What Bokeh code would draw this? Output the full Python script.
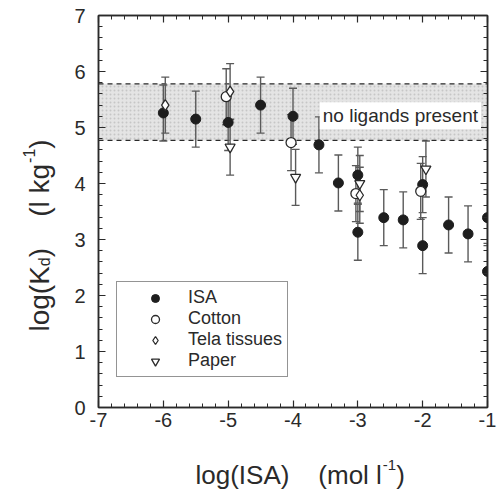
import math
from bokeh.plotting import figure
from bokeh.layouts import row, column
from bokeh.models import (ColumnDataSource, Whisker, TeeHead, Span, BoxAnnotation,
                          Label, Legend, LegendItem, LinearAxis, FixedTicker, Range1d)
from bokeh.embed import file_html
from bokeh.resources import INLINE

# ---------------- data ----------------
isa_x = [-6.0, -5.5, -5.0, -4.5, -4.0, -3.6, -3.3, -3.0, -3.0, -2.6, -2.3, -2.0, -2.0, -1.6, -1.3, -1.0, -1.0]
isa_y = [5.26, 5.15, 5.09, 5.40, 5.20, 4.69, 4.01, 4.15, 3.13, 3.39, 3.35, 3.98, 2.89, 3.26, 3.10, 3.39, 2.43]
isa_err = [0.5] * len(isa_x)

cotton_x = [-5.03, -4.03, -3.03, -2.03]
cotton_y = [5.55, 4.73, 3.82, 3.86]
cotton_err = [0.5, 0.5, 0.5, 0.5]

tela_x = [-5.97, -4.97, -2.97]
tela_y = [5.40, 5.64, 3.79]
tela_err = [0.5, 0.5, 0.5]

paper_x = [-4.97, -3.96, -2.97, -1.95]
paper_y = [4.65, 4.11, 4.00, 4.26]
paper_err = [0.5, 0.5, 0.5, 0.5]

band_low = 4.77
band_high = 5.78
band_text = "no ligands present"

x_ticks = [-7, -6, -5, -4, -3, -2, -1]
x_tick_labels = ["-7", "-6", "-5", "-4", "-3", "-2", "-1"]
y_ticks = [0, 1, 2, 3, 4, 5, 6, 7]
y_tick_labels = ["0", "1", "2", "3", "4", "5", "6", "7"]

FONT = "Liberation Sans"
INK = "#2a2a2a"
NB = "\u00a0"

MAIN_W = 38 + 389 + 11
MAIN_H = 15 + 392 + 45
p = figure(title=None, frame_width=389, frame_height=392, x_range=Range1d(-7, -1), y_range=Range1d(0, 7),
           output_backend="svg", toolbar_location=None,
           min_border_left=38, min_border_right=11, min_border_top=15, min_border_bottom=45)
p.grid.visible = False
p.outline_line_color = INK
p.outline_line_width = 1.5
p.background_fill_color = "white"
p.border_fill_color = "white"

# band
p.add_layout(BoxAnnotation(bottom=band_low, top=band_high, fill_color="#e4e4e4", fill_alpha=1.0,
                           hatch_pattern="dot", hatch_color="#c6c6c6", hatch_scale=4, hatch_weight=1,
                           line_color=None, level="underlay"))
for yv in (band_low, band_high):
    p.add_layout(Span(location=yv, dimension="width", line_color=INK, line_width=1.3,
                      line_dash="5 4", level="underlay"))

def add_series(xs, ys, errs):
    src = ColumnDataSource(dict(x=xs, y=ys, lo=[a - b for a, b in zip(ys, errs)],
                                hi=[a + b for a, b in zip(ys, errs)]))
    w = Whisker(source=src, base="x", lower="lo", upper="hi", line_color="#5a5a5a", line_width=1.4,
                upper_head=TeeHead(size=8, line_color="#5a5a5a", line_width=1.4),
                lower_head=TeeHead(size=8, line_color="#5a5a5a", line_width=1.4), level="underlay")
    p.add_layout(w)
    return src

s_isa = add_series(isa_x, isa_y, isa_err)
s_cot = add_series(cotton_x, cotton_y, cotton_err)
s_tel = add_series(tela_x, tela_y, tela_err)
s_pap = add_series(paper_x, paper_y, paper_err)

r_isa = p.scatter("x", "y", source=s_isa, marker="circle", size=10, fill_color="#1e1e1e", line_color="#1e1e1e")
r_cot = p.scatter("x", "y", source=s_cot, marker="circle", size=10, fill_color="white", line_color=INK, line_width=1.3)
r_tel = p.scatter("x", "y", source=s_tel, marker="diamond", size=11, fill_color="white", line_color=INK, line_width=1.3)
r_pap = p.scatter("x", "y", source=s_pap, marker="inverted_triangle", size=10, fill_color="white", line_color=INK, line_width=1.3)

legend = Legend(items=[LegendItem(label="ISA", renderers=[r_isa]),
                       LegendItem(label="Cotton", renderers=[r_cot]),
                       LegendItem(label="Tela tissues", renderers=[r_tel]),
                       LegendItem(label="Paper", renderers=[r_pap])],
                location=(18, 30), padding=5, spacing=0, margin=0,
                glyph_width=66, glyph_height=20, label_height=20, label_standoff=0,
                label_text_font=FONT, label_text_font_size="18px", label_text_color=INK,
                border_line_color=INK, border_line_width=1.3, background_fill_alpha=1.0)
p.add_layout(legend, "center")

p.add_layout(Label(x=-1.1, y=5.21, text=band_text, text_align="right", text_baseline="middle",
                   text_font=FONT, text_font_size="19px", text_color=INK,
                   background_fill_color="white", background_fill_alpha=1.0, padding=3))

# axes styling
def style_axis(ax, show_labels):
    ax.axis_label = None
    ax.axis_line_color = INK
    ax.axis_line_width = 1.5
    ax.major_tick_in = 7
    ax.major_tick_out = 0
    ax.minor_tick_in = 4
    ax.minor_tick_out = 0
    ax.major_tick_line_color = INK
    ax.minor_tick_line_color = INK
    ax.major_tick_line_width = 1.2
    ax.minor_tick_line_width = 1.0
    if show_labels:
        ax.major_label_text_font = FONT
        ax.major_label_text_font_size = "20px"
        ax.major_label_text_color = INK
    else:
        ax.major_label_text_font_size = "1px"
        ax.major_label_text_alpha = 0
        ax.major_label_standoff = 0

xt = FixedTicker(ticks=x_ticks, minor_ticks=[x_ticks[0] + i * 0.2 for i in range(31)])
yt = FixedTicker(ticks=y_ticks, minor_ticks=[y_ticks[0] + i * 0.2 for i in range(36)])

p.xaxis.ticker = xt
p.yaxis.ticker = yt
p.xaxis.major_label_overrides = dict(zip(x_ticks, x_tick_labels))
p.yaxis.major_label_overrides = dict(zip(y_ticks, y_tick_labels))
style_axis(p.xaxis[0], True)
style_axis(p.yaxis[0], True)
p.xaxis.major_label_standoff = 5
p.yaxis.major_label_standoff = 13

top_ax = LinearAxis(ticker=xt)
right_ax = LinearAxis(ticker=yt)
style_axis(top_ax, False)
style_axis(right_ax, False)
p.add_layout(top_ax, "above")
p.add_layout(right_ax, "right")

# ---------------- axis titles (separate blank figures, pixel ranges) ----------------
def blank(w, h):
    f = figure(title=None, frame_width=w, frame_height=h, x_range=Range1d(0, w), y_range=Range1d(0, h),
               output_backend="svg", toolbar_location=None, x_axis_type=None, y_axis_type=None,
               min_border=0, min_border_left=0, min_border_right=0, min_border_top=0, min_border_bottom=0)
    f.grid.visible = False
    f.outline_line_color = None
    f.background_fill_color = "white"
    f.border_fill_color = "white"
    return f

def em(wsum, size):
    return wsum * size / 1000.0

small = 15

YT_W = 60
yfig = blank(YT_W, MAIN_H)
XT_H = 493 - MAIN_H
xfig = blank(YT_W + MAIN_W, XT_H)

def lab(f, **kw):
    base = dict(text_font=FONT, text_color=INK, text_baseline="alphabetic")
    base.update(kw)
    f.add_layout(Label(**base))

# x title
bx = 26
x0 = 195
yb = 19
t1 = "log(ISA)" + NB * 4 + "(mol" + NB + "l"
w1 = em(3612 + 4 * 278 + 333 + 833 + 556 + 222 + 278 + 222, bx)
w2 = em(333 + 556, small)
lab(xfig, x=x0, y=yb, text=t1, text_font_size=f"{bx}px")
lab(xfig, x=x0 + w1 + 1, y=yb + 10, text="-1", text_font_size=f"{small}px")
lab(xfig, x=x0 + w1 + w2 + 1, y=yb, text=")", text_font_size=f"{bx}px")

# y title (rotated)
by = 28
sm_y = 16
xb = 39
y0 = MAIN_H - 316
a = math.pi / 2
s1 = "log(K"
s2 = ")" + NB * 4 + "(l" + NB + "kg"
ws1 = em(222 + 556 + 556 + 333 + 667, by)
wd = em(556, sm_y)
ws2 = em(333 + 4 * 278 + 333 + 222 + 278 + 500 + 556, by)
wm = em(333 + 556, sm_y)
lab(yfig, x=xb, y=y0, text=s1, angle=a, text_font_size=f"{by}px")
lab(yfig, x=xb + 5, y=y0 + ws1, text="d", angle=a, text_font_size=f"{sm_y}px")
lab(yfig, x=xb, y=y0 + ws1 + wd, text=s2, angle=a, text_font_size=f"{by}px")
lab(yfig, x=xb - 11, y=y0 + ws1 + wd + ws2 + 1, text="-1", angle=a, text_font_size=f"{sm_y}px")
lab(yfig, x=xb, y=y0 + ws1 + wd + ws2 + wm + 1, text=")", angle=a, text_font_size=f"{by}px")

layout = column(row(yfig, p, spacing=0), xfig, spacing=0)

open("out.html", "w").write(file_html(layout, INLINE))
